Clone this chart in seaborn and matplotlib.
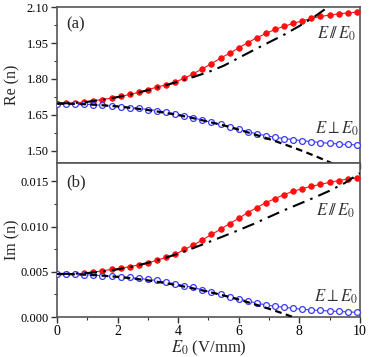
import matplotlib
matplotlib.use("Agg")
import matplotlib.pyplot as plt
import seaborn as sns
import pandas as pd
from matplotlib.ticker import MultipleLocator

# ---- data ----
E_pts = [0.0, 0.3, 0.6, 0.9, 1.2, 1.5, 1.8, 2.1, 2.4, 2.7, 3.0, 3.3, 3.6, 3.9,
         4.2, 4.5, 4.8, 5.1, 5.4, 5.7, 6.0, 6.3, 6.6, 6.9, 7.2, 7.5, 7.8, 8.1,
         8.4, 8.7, 9.0, 9.3, 9.6, 9.9]
re_par = [1.697, 1.698, 1.700, 1.704, 1.709, 1.714, 1.720, 1.727, 1.735, 1.744,
          1.755, 1.766, 1.775, 1.788, 1.802, 1.822, 1.842, 1.864, 1.887, 1.907,
          1.930, 1.952, 1.972, 1.990, 2.007, 2.020, 2.032, 2.043, 2.053, 2.061,
          2.067, 2.072, 2.076, 2.079]
re_perp = [1.697, 1.697, 1.696, 1.694, 1.693, 1.689, 1.686, 1.684, 1.680, 1.677,
           1.672, 1.668, 1.661, 1.654, 1.647, 1.638, 1.627, 1.619, 1.610, 1.601,
           1.590, 1.580, 1.570, 1.563, 1.556, 1.551, 1.546, 1.542, 1.538, 1.534,
           1.531, 1.528, 1.526, 1.524]
im_par = [4.75, 4.76, 4.78, 4.82, 4.96, 5.11, 5.26, 5.40, 5.56, 5.77, 5.96, 6.28,
          6.58, 6.91, 7.46, 7.94, 8.52, 9.12, 9.70, 10.33, 10.91, 11.54, 12.09,
          12.65, 13.09, 13.53, 13.89, 14.19, 14.44, 14.66, 14.88, 15.07, 15.25, 15.36]
im_perp = [4.75, 4.74, 4.72, 4.68, 4.63, 4.56, 4.48, 4.44, 4.37, 4.26, 4.15, 4.04,
           3.83, 3.67, 3.45, 3.27, 2.98, 2.76, 2.50, 2.24, 2.02, 1.77, 1.54, 1.33,
           1.18, 1.07, 0.96, 0.85, 0.77, 0.73, 0.66, 0.62, 0.56, 0.52]

E_fit = [0.0, 0.5, 1.0, 1.5, 2.0, 2.5, 3.0, 3.5, 4.0, 4.5, 5.0, 5.5, 6.0, 6.5,
         7.0, 7.5, 8.0, 8.5, 9.0, 9.5, 10.0]
re_par_fit = [1.697, 1.699, 1.704, 1.713, 1.724, 1.737, 1.753, 1.770, 1.789, 1.808,
              1.829, 1.855, 1.888, 1.921, 1.953, 1.985, 2.021, 2.060, 2.105, 2.150, 2.20]
re_perp_fit = [1.697, 1.696, 1.694, 1.690, 1.685, 1.678, 1.670, 1.660, 1.649, 1.636,
               1.621, 1.606, 1.588, 1.569, 1.549, 1.527, 1.504, 1.479, 1.452, 1.424, 1.395]
im_par_fit = [4.75, 4.78, 4.86, 5.02, 5.27, 5.58, 5.98, 6.45, 7.00, 7.62, 8.27,
              8.93, 9.60, 10.30, 11.05, 11.80, 12.50, 13.20, 13.95, 14.80, 15.90]
im_perp_fit = [4.75, 4.73, 4.67, 4.57, 4.44, 4.26, 4.05, 3.79, 3.50, 3.16, 2.79,
               2.38, 1.93, 1.44, 0.91, 0.35, -0.26, -0.91, -1.59, -2.31, -3.08]

df = pd.DataFrame({"E": E_pts, "re_par": re_par, "re_perp": re_perp,
                   "im_par": [v * 1e-3 for v in im_par],
                   "im_perp": [v * 1e-3 for v in im_perp]})
dfit = pd.DataFrame({"E": E_fit, "re_par": re_par_fit, "re_perp": re_perp_fit,
                     "im_par": [v * 1e-3 for v in im_par_fit],
                     "im_perp": [v * 1e-3 for v in im_perp_fit]})

sns.set_style("ticks")
plt.rcParams["font.family"] = ["Liberation Serif", "DejaVu Serif"]
plt.rcParams["mathtext.fontset"] = "stix"

fig = plt.figure(figsize=(3.78, 3.57), dpi=100)
ax1 = fig.add_axes([0.151, 0.543, 0.801, 0.437])
ax2 = fig.add_axes([0.151, 0.112, 0.801, 0.431])

red = "#ff1010"
blue = "#3a3aff"

def draw(ax, par, perp):
    sns.lineplot(data=df, x="E", y=par, ax=ax, color=red, lw=0.8, marker="o",
                 markersize=4, markeredgewidth=0.6, markeredgecolor=red, zorder=3)
    sns.lineplot(data=df, x="E", y=perp, ax=ax, color=blue, lw=0.8, marker="o",
                 markersize=4.2, markerfacecolor="white", markeredgecolor=blue,
                 markeredgewidth=0.9, zorder=3)
    sns.lineplot(data=dfit, x="E", y=par, ax=ax, color="black", lw=1.5, zorder=4,
                 linestyle=(0, (6, 3, 1.2, 3)))
    sns.lineplot(data=dfit, x="E", y=perp, ax=ax, color="black", lw=1.6, zorder=4,
                 linestyle=(0, (3, 2)))

draw(ax1, "re_par", "re_perp")
draw(ax2, "im_par", "im_perp")

for ax in (ax1, ax2):
    ax.set_xlim(0, 10)
    ax.xaxis.set_major_locator(MultipleLocator(2))
    ax.xaxis.set_minor_locator(MultipleLocator(1))
    ax.tick_params(axis="both", which="major", direction="out", length=4,
                   width=1, labelsize=10, colors="#333333", labelcolor="black", pad=2)
    ax.tick_params(axis="y", which="major", labelsize=9)
    ax.tick_params(axis="both", which="minor", direction="out", length=2.5,
                   width=0.8, colors="#333333")
    for s in ax.spines.values():
        s.set_visible(True)
        s.set_color("#555555")
        s.set_linewidth(1.2)

ax1.set_ylim(1.448, 2.10)
ax1.set_yticks([1.50, 1.65, 1.80, 1.95, 2.10])
ax1.set_yticklabels(["1.50", "1.65", "1.80", "1.95", "2.10"])
ax1.yaxis.set_minor_locator(MultipleLocator(0.075))
ax1.tick_params(axis="x", labelbottom=False)
ax1.set_xlabel("")
ax1.set_ylabel("Re (n)", fontsize=11.5)
ax1.yaxis.set_label_coords(-0.12, 0.5)

ax2.set_ylim(0, 0.017)
ax2.set_yticks([0.000, 0.005, 0.010, 0.015])
ax2.set_yticklabels(["0.000", "0.005", "0.010", "0.015"])
ax2.yaxis.set_minor_locator(MultipleLocator(0.0025))
ax2.set_xticks([0, 2, 4, 6, 8, 10])
ax2.set_xticklabels(["0", "2", "4", "6", "8", "10"])
ax2.set_xlabel(r"$E_0$ (V/mm)", fontsize=12, labelpad=0)
ax2.set_ylabel("Im (n)", fontsize=11.5)
ax2.yaxis.set_label_coords(-0.12, 0.5)

ax1.text(0.03, 0.89, "(a)", transform=ax1.transAxes, fontsize=12, va="center")
ax2.text(0.03, 0.873, "(b)", transform=ax2.transAxes, fontsize=12, va="center")
par_lbl = r"$E\,/\!/\,E_0$"
perp_lbl = r"$E\perp E_0$"
ax1.text(0.924, 0.83, par_lbl, transform=ax1.transAxes, fontsize=12,
         ha="center", va="center", color="#333333")
ax1.text(0.924, 0.22, perp_lbl, transform=ax1.transAxes, fontsize=12,
         ha="center", va="center", color="#333333")
ax2.text(0.92, 0.69, par_lbl, transform=ax2.transAxes, fontsize=12,
         ha="center", va="center", color="#333333")
ax2.text(0.92, 0.13, perp_lbl, transform=ax2.transAxes, fontsize=12,
         ha="center", va="center", color="#333333")

fig.savefig("out.png", dpi=100)
